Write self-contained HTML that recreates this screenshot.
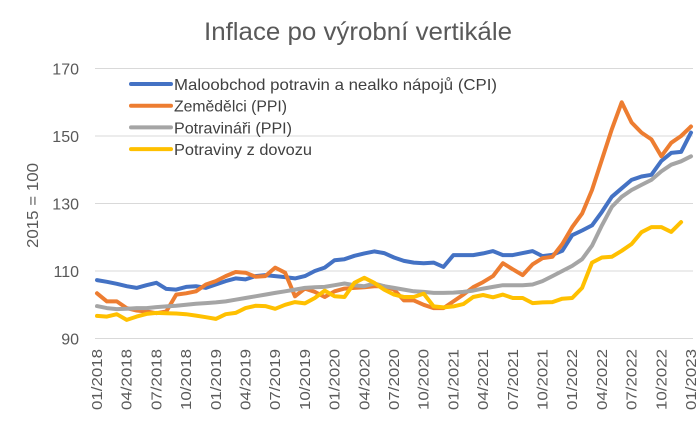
<!DOCTYPE html>
<html><head><meta charset="utf-8"><style>
body{margin:0;background:#fff;font-family:"Liberation Sans",sans-serif}
svg text{font-family:"Liberation Sans",sans-serif}
</style></head><body>
<svg id="c" width="699" height="418">
<text x="204" y="40" textLength="308" lengthAdjust="spacingAndGlyphs" font-size="25" fill="#595959">Inflace po výrobní vertikále</text>
<text transform="translate(38,248) rotate(-90)" textLength="85" lengthAdjust="spacingAndGlyphs" font-size="16" fill="#595959">2015 = 100</text>
<g id="grid"></g><g id="lines"></g><g id="xl"></g><g id="leg"></g>
</svg>
<script>
const months=["01/2018","04/2018","07/2018","10/2018","01/2019","04/2019","07/2019","10/2019","01/2020","04/2020","07/2020","10/2020","01/2021","04/2021","07/2021","10/2021","01/2022","04/2022","07/2022","10/2022","01/2023"];
const yTicks=[90,110,130,150,170];
const seriesNames=["Maloobchod potravin a nealko nápojů (CPI)","Zemědělci (PPI)","Potravináři (PPI)","Potraviny z dovozu"];
const cpi=[107.3,106.8,106.2,105.5,105,105.8,106.5,104.7,104.5,105.3,105.5,105,106,107,107.8,107.5,108.5,108.8,108.5,108.2,107.8,108.5,110,111,113.2,113.5,114.5,115.2,115.8,115.3,114,113,112.5,112.3,112.5,111.2,114.7,114.7,114.7,115.2,115.9,114.7,114.7,115.3,115.9,114.4,114.8,116,120.6,122,123.5,127.5,132,134.5,137,138,138.5,142.6,145,145.3,151];
const zem=[103.4,101,101,99,98.3,98,97.5,98,103,103.4,104,106,107,108.5,109.7,109.5,108.3,108.5,111,109.5,102.5,104.8,103.8,102.3,104,104.8,105,105.2,105.5,105.5,104.5,101.3,101.3,100,99,99,101,103,105.2,106.7,108.5,112.3,110.5,108.8,112,113.8,114.2,118,123,127,134,143,152,160,154,151,149,144,148,150,152.8];
const potr=[99.6,99,98.7,98.8,99,99,99.3,99.5,99.7,100,100.3,100.5,100.7,101,101.5,102,102.5,103,103.5,104,104.5,105,105.2,105.3,105.8,106.3,105.8,105.5,106.3,105.5,105,104.5,104,103.8,103.5,103.5,103.6,103.8,104.2,104.8,105.3,105.8,105.8,105.8,106,107,108.5,110,111.5,113.5,117.5,123.5,129,132,134,135.5,137,139.5,141.5,142.5,144];
const dovoz=[96.7,96.5,97.2,95.5,96.5,97.3,97.6,97.5,97.4,97.2,96.8,96.3,95.8,97.2,97.6,99,99.7,99.6,98.8,100,100.8,100.4,102,104.2,102.5,102.3,106.5,108,106.5,104.5,103,102.3,102.3,103.3,99.5,99.2,99.5,100.2,102.3,102.9,102.2,103,102,102,100.5,100.7,100.8,101.8,102,105,112.5,114,114.2,116,118,121.5,123,123,121.6,124.5];
const colors=["#4472C4","#ED7D31","#A5A5A5","#FFC000"];
const NS="http://www.w3.org/2000/svg";
const X=m=>97+m*9.9, Y=v=>338.5-(v-90)*3.375;
function mk(t,a,p){const e=document.createElementNS(NS,t);for(const k in a)e.setAttribute(k,a[k]);p.appendChild(e);return e;}
const g=document.getElementById('grid');
yTicks.forEach(v=>{
 const l=mk('line',{x1:95,x2:693,y1:Y(v),y2:Y(v),stroke:'#d9d9d9','stroke-width':1},g);
 
 
 const t=mk('text',{x:79,y:Y(v)+6,'text-anchor':'end','font-size':16,fill:'#595959'},g);t.textContent=v;
 
 
});
const xl=document.getElementById('xl');
months.forEach((s,i)=>{
 const x=X(i*3);
 const t=mk('text',{transform:`translate(${x+5},410) rotate(-90)`,textLength:61,lengthAdjust:'spacingAndGlyphs','font-size':15,fill:'#595959'},xl);t.textContent=s;
 
 
});
const L=document.getElementById('lines');
[cpi,zem,potr,dovoz].forEach((d,si)=>{
 const pts=d.map((v,i)=>X(i).toFixed(1)+','+Y(v).toFixed(1)).join(' ');
 const p=mk('polyline',{points:pts,fill:'none',stroke:colors[si],'stroke-width':4,'stroke-linejoin':'round','stroke-linecap':'round'},L);
 
 
});
const lens=[323,113,118,138];
const lg=document.getElementById('leg');
seriesNames.forEach((n,i)=>{
 const y=84+i*21.7;
 const l=mk('line',{x1:131,x2:171,y1:y,y2:y,stroke:colors[i],'stroke-width':4,'stroke-linecap':'round'},lg);
 
 
 const t=mk('text',{x:174,y:y+6,textLength:lens[i],lengthAdjust:'spacingAndGlyphs','font-size':16,fill:'#404040'},lg);t.textContent=n;
 
 
});
</script>
</body></html>
